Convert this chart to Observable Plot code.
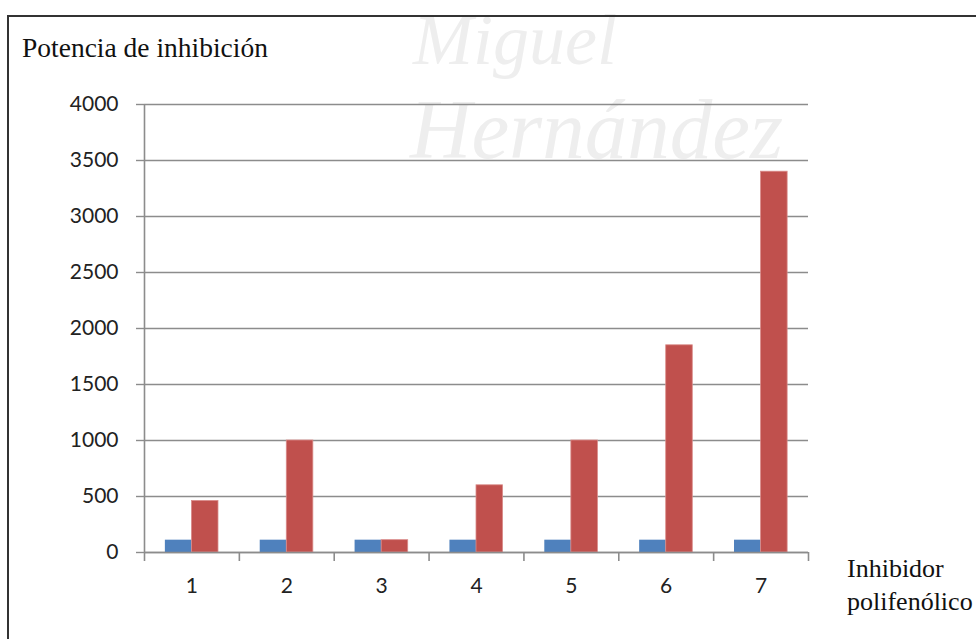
<!DOCTYPE html>
<html>
<head>
<meta charset="utf-8">
<script src="https://cdn.jsdelivr.net/npm/d3@7"></script>
<script src="https://cdn.jsdelivr.net/npm/@observablehq/plot@0.6"></script>
<style>
  html, body { margin: 0; padding: 0; background: #fff; overflow: hidden; }
  #page { position: relative; width: 976px; height: 639px; overflow: hidden; }
  .watermark { position: absolute; font-family: "Liberation Serif", serif; font-style: italic;
    font-size: 85px; color: #eeeeee; line-height: 1.1; white-space: nowrap; }
  #frame { position: absolute; left: 7px; top: 15px; width: 1200px; height: 900px;
    border-left: 2px solid #333; border-top: 2px solid #333; }
  #chart { position: absolute; left: 0; top: 0; }
  .serif { position: absolute; font-family: "Liberation Serif", "Times New Roman", serif; color: #111; white-space: nowrap; }
  #title { left: 22px; top: 34px; font-size: 27.5px; line-height: 1; }
  #xlabel { left: 847px; top: 552px; font-size: 26px; line-height: 33px; }
</style>
</head>
<body>
<div id="page">
  <div class="watermark" style="left:413px; top:1px; font-size:72px;">Miguel</div>
  <div class="watermark" style="left:410px; top:83px;">Hernández</div>
  <div id="frame"></div>
  <div id="chart"></div>
  <div id="title" class="serif">Potencia de inhibición</div>
  <div id="xlabel" class="serif">Inhibidor<br>polifenólico</div>
</div>
<script>
// Inhibitor number along the x axis
const inhibidores = [1, 2, 3, 4, 5, 6, 7];
// Reference series (blue) and inhibition potency series (red)
const referencia = [110, 110, 110, 110, 110, 110, 110];
const potencia = [460, 1000, 110, 600, 1000, 1850, 3400];
// Value-axis ticks
const yTicks = [0, 500, 1000, 1500, 2000, 2500, 3000, 3500, 4000];

// Half of a bar pair's width, in category units
const barW = 0.28;
const gridColor = "#8c8c8c";

const rows = inhibidores.map((c, i) => ({c, referencia: referencia[i], potencia: potencia[i]}));
const boundaries = d3.range(0.5, inhibidores.length + 1, 1);

const chart = Plot.plot({
  width: 976,
  height: 639,
  marginLeft: 144,
  marginRight: 168,
  marginTop: 104,
  marginBottom: 87,
  style: {background: "transparent", fontFamily: "Lato, sans-serif", fontSize: "21px", color: "#222"},
  x: {type: "linear", domain: [0.5, inhibidores.length + 0.5]},
  y: {domain: [0, 4000]},
  marks: [
    // horizontal gridlines
    Plot.ruleY(yTicks, {x1: 0.5, x2: inhibidores.length + 0.5, stroke: gridColor, strokeWidth: 1.4}),
    // bars
    Plot.rectY(rows, {x1: d => d.c - barW, x2: d => d.c, y1: 0, y2: "referencia", fill: "#4f81bd"}),
    Plot.rectY(rows, {x1: d => d.c, x2: d => d.c + barW, y1: 0, y2: "potencia", fill: "#c0504d", stroke: "#d98b89", strokeWidth: 0.8}),
    // value axis
    Plot.axisY({ticks: yTicks, tickSize: 8, tickPadding: 18, tickFormat: d => String(d), stroke: gridColor, strokeWidth: 1.4, strokeOpacity: 1, label: null}),
    Plot.ruleX([0.5], {stroke: gridColor, strokeWidth: 1.6}),
    // category axis: boundary ticks and centred labels
    Plot.ruleY([0], {x1: 0.5, x2: inhibidores.length + 0.5, stroke: gridColor, strokeWidth: 1.6}),
    Plot.axisX({ticks: boundaries, tickSize: 9, tickFormat: () => "", stroke: gridColor, strokeWidth: 1.6, strokeOpacity: 1, label: null}),
    Plot.axisX({ticks: inhibidores, tickSize: 0, tickPadding: 26, tickFormat: d => String(d), label: null})
  ]
});
document.getElementById("chart").append(chart);
</script>
</body>
</html>
